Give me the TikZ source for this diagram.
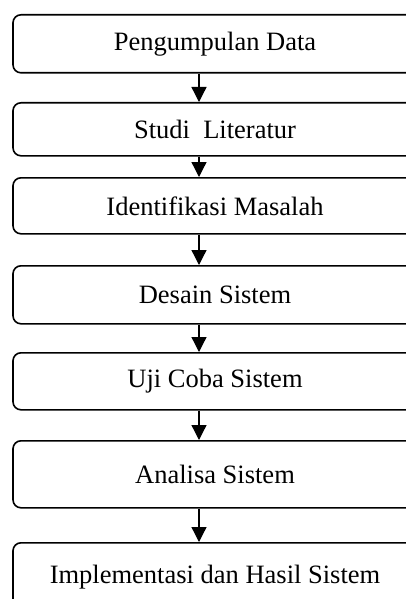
\documentclass[tikz,border=0pt]{standalone}
\usepackage{fontspec}
\setmainfont{Liberation Serif}
\usetikzlibrary{arrows.meta}
\tikzset{
  stepbox/.style={draw=black, line width=1.6pt, rounded corners=8pt, minimum width=404pt, inner sep=0pt, font=\fontsize{26.5}{30}\selectfont, anchor=north},
  flowarr/.style={draw=black, line width=1.3pt, -{Triangle[width=15pt,length=15pt]}}
}
\begin{document}
\begin{tikzpicture}[x=1pt,y=-1pt]
\useasboundingbox (0,0) rectangle (406,599);
\clip (0,0) rectangle (406,599);
\node[stepbox, minimum height=58pt] (b1) at (215,14) {Pengumpulan Data};
\node[stepbox, minimum height=53pt] (b2) at (215,102) {Studi\ \ Literatur};
\node[stepbox, minimum height=56pt] (b3) at (215,177) {Identifikasi Masalah};
\node[stepbox, minimum height=58pt] (b4) at (215,265) {Desain Sistem};
\node[stepbox, minimum height=57pt] (b5) at (215,352) {Uji Coba Sistem};
\node[stepbox, minimum height=67pt] (b6) at (215,440) {Analisa Sistem};
\node[stepbox, minimum height=68pt] (b7) at (215,542) {Implementasi dan Hasil Sistem};
\coordinate (ax) at (199,0);
\draw[flowarr] (b1.south -| ax) -- (b2.north -| ax);
\draw[flowarr] (b2.south -| ax) -- (b3.north -| ax);
\draw[flowarr] (b3.south -| ax) -- (b4.north -| ax);
\draw[flowarr] (b4.south -| ax) -- (b5.north -| ax);
\draw[flowarr] (b5.south -| ax) -- (b6.north -| ax);
\draw[flowarr] (b6.south -| ax) -- (b7.north -| ax);
\end{tikzpicture}
\end{document}
